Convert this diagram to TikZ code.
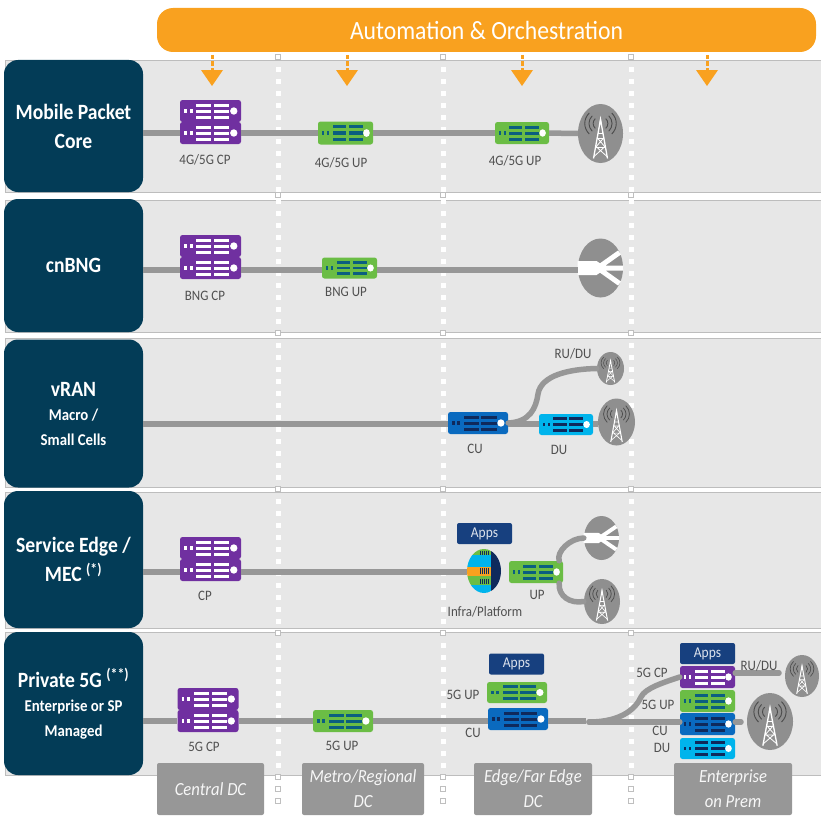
\documentclass[tikz,border=0pt]{standalone}
\usepackage{xcolor}
\usepackage{fontspec}
\setmainfont[FakeStretch=0.9]{Carlito}
\usetikzlibrary{shapes.geometric}

\definecolor{bandgray}{HTML}{E7E7E7}
\definecolor{bandline}{HTML}{BDBDBD}
\definecolor{linkgray}{HTML}{979797}
\definecolor{boxnavy}{HTML}{033C57}
\definecolor{orangeA}{HTML}{F9A11F}
\definecolor{purpleA}{HTML}{7030A0}
\definecolor{greenA}{HTML}{6BBD45}
\definecolor{blueA}{HTML}{0A6ABF}
\definecolor{cyanA}{HTML}{00B4EC}
\definecolor{tealA}{HTML}{0B5F80}
\definecolor{navyA}{HTML}{0F2A5C}
\definecolor{appsblue}{HTML}{17407F}
\definecolor{towergray}{HTML}{8F8F8F}
\definecolor{tagtext}{HTML}{505050}

\newcommand{\bigtxtfont}{\fontsize{21.8}{29}\selectfont\bfseries}
\newcommand{\smalltxtfont}{\fontsize{16.5}{24.5}\selectfont\bfseries}

\tikzset{
	lblbox/.style={fill=boxnavy,rounded corners=14pt,text=white,align=center,minimum width=139pt,inner sep=0pt},
	bigtxt/.style={font=\bigtxtfont},
	smalltxt/.style={font=\smalltxtfont},
	srvbox/.style={rounded corners=2.5pt,inner sep=0pt,draw=none},
	appsbox/.style={fill=appsblue,rounded corners=2pt,text=white!85!appsblue,minimum width=55pt,minimum height=21pt,inner sep=0pt,font=\fontsize{15}{15}\selectfont},
	tag/.style={text=tagtext,font=\fontsize{14.4}{14.4}\selectfont,inner sep=0pt},
	dcbox/.style={fill=linkgray,rounded corners=2pt,text=white!92!linkgray,align=center,minimum height=52pt,inner sep=0pt,font=\fontsize{18.5}{25}\selectfont\itshape},
	link/.style={draw=linkgray,line width=5.5pt},
	curvelink/.style={draw=linkgray,line width=5.5pt,line cap=round},
	towerdisc/.style={ellipse,fill=towergray,inner sep=0pt},
}

\newcommand{\srv}[7]{
	\node[srvbox,fill=#6,minimum width=#4pt,minimum height=#5pt] (#1) at (#2,#3) {};
	\begin{scope}[shift={(#1.center)},xscale=#4/55,yscale=#5/22]
		\fill[#7] (-23.8,-2) rectangle (-21.2,2);
		\fill[#7] (-18.8,-2) rectangle (-16.2,2);
		\foreach \rowy in {-6,0,6} {
			\fill[#7] (-13,\rowy-1.5) rectangle (0.5,\rowy+1.5);
			\fill[#7] (3.2,\rowy-1.5) rectangle (17,\rowy+1.5);
		}
		\fill[white] (21,0) ellipse (3.3 and 3.7);
	\end{scope}
}

\newcommand{\srvstack}[3]{
	\srv{#1a}{#2}{#3-11}{61}{22}{purpleA}{white}
	\srv{#1}{#2}{#3+11}{61}{22}{purpleA}{white}
}

\newcommand{\tower}[5]{
	\node[towerdisc,minimum width=#4pt,minimum height=#5pt] (#1) at (#2,#3) {};
	\begin{scope}[shift={(#1.center)},xscale=#4/45,yscale=#5/59]
		\draw[white,line width={#4/45*1.3pt}] (-7,25) -- (0,-14) -- (7,25);
		\draw[white,line width={#4/45*0.8pt}] (-5,14) -- (3.5,4) (5,14) -- (-3.5,4) (-6.5,23) -- (4.5,13) (6.5,23) -- (-4.5,13) (-2.5,0) -- (2.5,0) (-3.5,5) -- (3.5,5) (-5,14) -- (5,14);
		\fill[white] (-1.2,-10) -- (0,-17) -- (1.2,-10) -- cycle;
		\foreach \arcr in {7,11,15} {
			\draw[black!70,line width={#4/45*0.9pt}] ({-\arcr*0.75},{-10-\arcr*0.7}) .. controls ({-\arcr*1.15},{-10-\arcr*0.3}) and ({-\arcr*1.15},{-10+\arcr*0.3}) .. ({-\arcr*0.75},{-10+\arcr*0.7});
			\draw[black!70,line width={#4/45*0.9pt}] ({\arcr*0.75},{-10-\arcr*0.7}) .. controls ({\arcr*1.15},{-10-\arcr*0.3}) and ({\arcr*1.15},{-10+\arcr*0.3}) .. ({\arcr*0.75},{-10+\arcr*0.7});
		}
	\end{scope}
}

\newcommand{\fork}[5]{
	\node[towerdisc,minimum width=#4pt,minimum height=#5pt] (#1) at (#2,#3) {};
	\begin{scope}[shift={(#1.center)},xscale=#4/45,yscale=#5/59]
		\fill[white] (-23,-7) -- (-4,-7) -- (2,-3) -- (2,3) -- (-4,7) -- (-23,7) -- cycle;
		\draw[white,line width={#4/45*5pt}] (0,-2) -- (19,-15.5) (0,0) -- (22.5,0) (0,2) -- (19,15.5);
	\end{scope}
}

\begin{document}
\begin{tikzpicture}[x=1pt,y=-1pt]
		\useasboundingbox (0,0) rectangle (821,816);
		\foreach \topy/\boty in {60/192,200/332,338/487,492/628,632/775} {
			\draw[fill=bandgray,draw=bandline,line width=0.7pt] (5,\topy) rectangle (821,\boty);
		}
		\foreach \dashx in {278,443,631} {
			\foreach \dashy in {69,81,...,801} {
				\fill[white] (\dashx-2.5,\dashy-2.5) rectangle (\dashx+2.5,\dashy+2.5);
			}
			\foreach \dashy in {57,195,333,489,633,777,789,801} {
				\draw[fill=white,draw=black!25,line width=0.4pt] (\dashx-2.5,\dashy-2.5) rectangle (\dashx+2.5,\dashy+2.5);
			}
		}

		\node[fill=orangeA,rounded corners=16pt,text=white,minimum width=659pt,minimum height=44pt,inner sep=0pt,font=\fontsize{26.3}{26.3}\selectfont] (pill) at (486.5,30) {Automation \& Orchestration};
		\foreach \arrowx [count=\arrowi] in {212,347,522,707} {
			\coordinate (stem\arrowi) at (\arrowx,55);
			\coordinate (tip\arrowi) at (\arrowx,70);
			\draw[orangeA,line width=3pt,dash pattern=on 4pt off 2.5pt] (stem\arrowi) -- (tip\arrowi);
			\fill[orangeA] (tip\arrowi) +(-11,0) -- +(11,0) -- +(0,16) -- cycle;
		}

		\node[lblbox,bigtxt,minimum height=132pt] (mpc) at (73.5,126) {Mobile Packet\\Core};
		\node[lblbox,bigtxt,minimum height=133pt] (cnbng) at (73.5,265.5) {cnBNG};
		\node[lblbox,smalltxt,minimum height=148pt] (vran) at (73.5,413.5) {{\bigtxtfont vRAN}\\Macro /\\Small Cells};
		\node[lblbox,bigtxt,minimum height=137pt] (sedge) at (73.5,559.5) {Service Edge /\\MEC \textsuperscript{(*)}};
		\node[lblbox,smalltxt,minimum height=143pt] (priv) at (73.5,703.5) {{\bigtxtfont Private 5G \textsuperscript{(**)}}\\Enterprise or SP\\Managed};

		% mobile packet core
		\srvstack{cpone}{210.5}{122}
		\srv{upone}{345.5}{133}{55}{23}{greenA}{tealA}
		\srv{uptwo}{522}{133}{54}{22}{greenA}{tealA}
		\tower{towone}{600.5}{133.5}{45}{59}
		\draw[link] (mpc.east |- cpone) -- (cpone);
		\draw[link] (cpone) -- (upone);
		\draw[link] (upone) -- (uptwo);
		\draw[link] (uptwo) -- (towone);
		\node[tag] (tcpone) at (205,160) {4G/5G CP};
		\node[tag] (tupone) at (341,163) {4G/5G UP};
		\node[tag] (tuptwo) at (515,161) {4G/5G UP};

		% cnBNG
		\srvstack{cptwo}{210.5}{257}
		\srv{upthree}{349.5}{268}{55}{21}{greenA}{tealA}
		\fork{forkone}{600.5}{268}{45}{59}
		\coordinate (rowtwo) at (0,270);
		\draw[link] (cnbng.east |- rowtwo) -- (cptwo.west |- rowtwo);
		\draw[link] (cptwo.east |- rowtwo) -- (upthree.west |- rowtwo);
		\draw[link] (upthree.east |- rowtwo) -- (forkone.west |- rowtwo);
		\node[tag] (tcptwo) at (205,296) {BNG CP};
		\node[tag] (tupthree) at (346,292) {BNG UP};

		% vRAN
		\srv{cuone}{478}{423}{60}{22}{blueA}{navyA}
		\srv{duone}{566}{424.5}{54}{21}{cyanA}{navyA}
		\tower{towtwo}{616.5}{422}{37}{47}
		\tower{towthree}{610.5}{368.5}{27}{33}
		\coordinate (rowthree) at (0,424);
		\draw[link] (vran.east |- rowthree) -- (cuone.west |- rowthree);
		\draw[link] (cuone.east |- rowthree) -- (duone.west |- rowthree);
		\draw[link] (duone.east |- rowthree) -- (towtwo.west |- rowthree);
		\draw[curvelink] (cuone.east) .. controls (530,422) and (536,408) .. (538,394) .. controls (541,375) and (570,369) .. (towthree.west);
		\node[tag] (trudu) at (573,354) {RU/DU};
		\node[tag] (tcuone) at (475,449) {CU};
		\node[tag] (tduone) at (559,450) {DU};

		% service edge
		\srvstack{cpthree}{210.5}{559}
		\node[ellipse,minimum width=34pt,minimum height=44pt,inner sep=0pt,path picture={
			\begin{scope}[shift={(path picture bounding box.center)}]
				\fill[greenA] (-18,-23) rectangle (7,-16);
				\fill[cyanA] (-18,-16) rectangle (7,-4);
				\fill[orangeA] (-18,-4) rectangle (7,5);
				\fill[greenA] (-18,5) rectangle (7,14);
				\fill[cyanA] (-18,14) rectangle (7,23);
				\fill[navyA] (7,-23) rectangle (18,23);
				\foreach \tickx in {-4,-2,0,2,4} {
					\draw[navyA,line width=0.7pt] (\tickx,-20) -- (\tickx,-16) (\tickx,-3) -- (\tickx,3) (\tickx,8) -- (\tickx,13);
				}
			\end{scope}
		}] (infra) at (484,571) {};
		\node[appsbox] (appsone) at (484.5,533.5) {Apps};
		\srv{upfour}{536}{572}{54}{22}{greenA}{tealA}
		\fork{forktwo}{601.5}{538}{35}{44}
		\tower{towfour}{602}{601.5}{36}{45}
		\coordinate (rowfour) at (0,572);
		\draw[link] (sedge.east |- rowfour) -- (cpthree.west |- rowfour);
		\draw[link] (cpthree.east |- rowfour) -- (infra.west |- rowfour);
		\draw[curvelink] (upfour.north east) ++(-4,0) .. controls (556,552) and (570,538) .. (forktwo.west);
		\draw[curvelink] (upfour.south east) ++(-4,0) .. controls (558,596) and (570,604) .. (towfour.west);
		\node[tag] (tcpthree) at (205,596) {CP};
		\node[tag] (tinfra) at (485,612) {Infra/Platform};
		\node[tag] (tupfour) at (537,595) {UP};

		% private 5G
		\srvstack{cpfour}{208}{710}
		\srv{upfive}{343}{721}{60}{22}{greenA}{tealA}
		\node[appsbox] (appstwo) at (516.5,664) {Apps};
		\srv{upsix}{517}{692.5}{60}{21}{greenA}{tealA}
		\srv{cutwo}{518}{719}{60}{22}{blueA}{navyA}
		\node[appsbox] (appsthree) at (707.5,653.5) {Apps};
		\srv{cpfive}{707.5}{677}{55}{22}{purpleA}{white}
		\srv{upseven}{707.5}{701}{55}{22}{greenA}{tealA}
		\srv{cuthree}{707.5}{724}{55}{22}{blueA}{navyA}
		\srv{dutwo}{707.5}{748.5}{55}{21}{cyanA}{navyA}
		\tower{towfive}{770}{721.5}{46}{57}
		\tower{towsix}{802}{676}{34}{42}
		\coordinate (rowfive) at (0,721);
		\coordinate (endone) at (586,721);
		\coordinate (starttwo) at (589,722);
		\coordinate (endtwo) at (741,722);
		\coordinate (endthree) at (779,673);
		\draw[link] (priv.east |- rowfive) -- (cpfour.west |- rowfive);
		\draw[link] (cpfour.east |- rowfive) -- (upfive.west |- rowfive);
		\draw[link] (upfive.east |- rowfive) -- (cutwo.west |- rowfive);
		\draw[link] (cutwo.east |- rowfive) -- (endone);
		\draw[curvelink] (starttwo) -- (cuthree.west |- starttwo);
		\draw[curvelink] (cuthree.east |- endtwo) -- (endtwo);
		\draw[curvelink] (starttwo) .. controls (622,722) and (636,708) .. (641,697) .. controls (645,688) and (665,682) .. (cpfive.west);
		\draw[curvelink] (cpfive.east |- endthree) -- (endthree);
		\node[tag] (tcpfour) at (204,747) {5G CP};
		\node[tag] (tupfive) at (342,746) {5G UP};
		\node[tag] (tupsix) at (463,695) {5G UP};
		\node[tag] (tcutwo) at (473,733) {CU};
		\node[tag] (tcpfive) at (652,673) {5G CP};
		\node[tag] (tupseven) at (658,705) {5G UP};
		\node[tag] (tcuthree) at (660,731) {CU};
		\node[tag] (tdutwo) at (662,748) {DU};
		\node[tag] (truduent) at (759,666) {RU/DU};

		% bottom tags
		\node[dcbox,minimum width=107pt] (dcone) at (210.5,789) {Central DC};
		\node[dcbox,minimum width=122pt] (dctwo) at (363,789) {Metro/Regional\\DC};
		\node[dcbox,minimum width=118pt] (dcthree) at (533,789) {Edge/Far Edge\\DC};
		\node[dcbox,minimum width=118pt] (dcfour) at (733,789) {Enterprise\\on Prem};
	\end{tikzpicture}
\end{document}
